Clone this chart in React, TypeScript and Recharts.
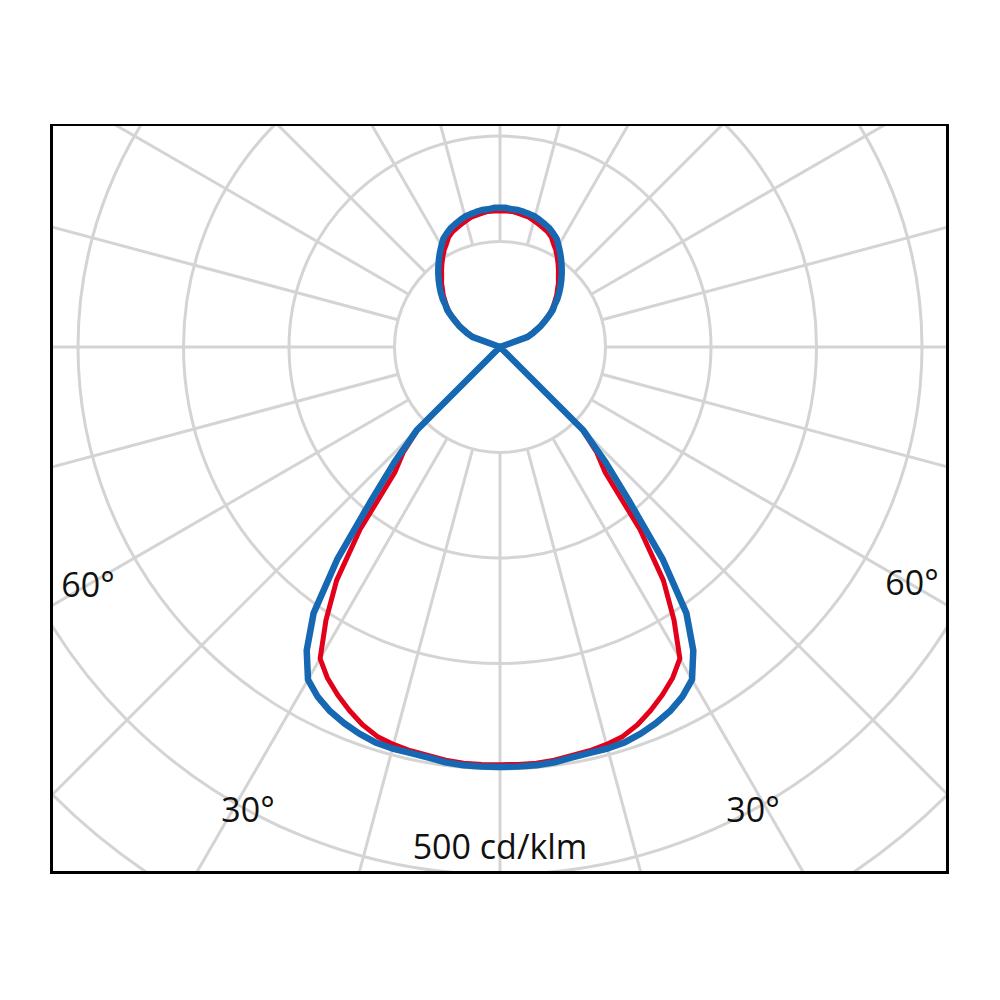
import React from "react";
import {
  RadarChart,
  Radar,
  PolarGrid,
  PolarAngleAxis,
  PolarRadiusAxis,
} from "recharts";

// gamma = angle from nadir, 0..180 in 2.5 degree steps (curves are symmetric)
const gammaStep = 2.5;

// cd/klm, blue curve, gamma 0 .. 180
const blueHalf = [
  398, 398, 398, 397, 395, 394, 394, 393, 390, 386, 381, 374, 364, 341, 308,
  253, 190, 148, 112,
  0, 0, 0, 0, 0, 0, 0, 0, 0, 0, 0, 0, 0, 0, 0, 0, 0, 0, 0, 0, 0, 0, 0, 0, 0,
  28, 33, 38, 44, 49, 55, 61, 65, 71, 76, 81, 86, 91, 96, 101, 106, 111, 116,
  119, 122, 124, 126, 128, 129, 130, 131, 131, 132, 132,
];

// cd/klm, red curve, gamma 0 .. 180
const redHalf = [
  396, 396, 396, 395, 393, 392, 390, 387, 381, 373, 364, 354, 341, 307, 270,
  218, 155, 136, 110,
  0, 0, 0, 0, 0, 0, 0, 0, 0, 0, 0, 0, 0, 0, 0, 0, 0, 0, 0, 0, 0, 0, 0, 0, 0,
  26, 31, 37, 43, 48, 54, 59, 64, 68, 73, 77, 82, 86, 91, 96, 101, 106, 110,
  115, 118, 120, 122, 124, 126, 127, 128, 129, 129, 129,
];

// grid rings every 100 cd/klm, spokes every 15 degrees
const ringTicks = [0, 100, 200, 300, 400, 500, 600];
const spokeAngles = [
  0, 15, 30, 45, 60, 75, 90, 105, 120, 135, 150, 165, 180, 195, 210, 225, 240,
  255, 270, 285, 300, 315, 330, 345,
];

const angleLabels = [
  { text: "60°", x: 35, y: 471 },
  { text: "60°", x: 859, y: 469 },
  { text: "30°", x: 195, y: 696 },
  { text: "30°", x: 700, y: 696 },
  { text: "500 cd/klm", x: 447, y: 733 },
];

// full circle built from the symmetric half
const steps = Math.round(360 / gammaStep);
const data = Array.from({ length: steps }, (_, i) => {
  const k = i <= steps / 2 ? i : steps - i;
  return { angle: i * gammaStep, blue: blueHalf[k], red: redHalf[k] };
});

const W = 893;
const H = 745;
const CX = 447;
const CY = 221;
const PX_PER_UNIT = 1.055; // px per cd/klm

export default function App() {
  const layer: React.CSSProperties = { position: "absolute", left: 0, top: 0 };
  return (
    <div
      style={{
        position: "absolute",
        left: 0,
        top: 0,
        width: 1000,
        height: 1000,
        background: "#fff",
      }}
    >
      <div
        style={{
          position: "absolute",
          left: 50,
          top: 124,
          width: W,
          height: H,
          borderStyle: "solid",
          borderColor: "#000",
          borderWidth: "2px 3px 3px 3px",
          overflow: "hidden",
        }}
      >
        {/* grid layer: the spokes start at the first ring */}
        <div style={layer}>
          <RadarChart
            width={W}
            height={H}
            data={data}
            cx={CX}
            cy={CY}
            innerRadius={100 * PX_PER_UNIT}
            outerRadius={700 * PX_PER_UNIT}
            startAngle={270}
            endAngle={-90}
            margin={{ top: 0, right: 0, bottom: 0, left: 0 }}
          >
            <PolarGrid
              gridType="circle"
              polarAngles={spokeAngles}
              stroke="#d4d4d4"
              strokeWidth={3}
            />
            <PolarAngleAxis dataKey="angle" tick={false} axisLine={false} tickLine={false} />
            <PolarRadiusAxis
              domain={[0, 600]}
              ticks={ringTicks}
              tick={false}
              axisLine={false}
              tickLine={false}
            />
            <Radar
              dataKey="blue"
              stroke="none"
              fill="none"
              fillOpacity={0}
              dot={false}
              isAnimationActive={false}
            />
          </RadarChart>
        </div>
        {/* curve layer */}
        <div style={layer}>
          <RadarChart
            width={W}
            height={H}
            data={data}
            cx={CX}
            cy={CY}
            innerRadius={0}
            outerRadius={700 * PX_PER_UNIT}
            startAngle={270}
            endAngle={-90}
            margin={{ top: 0, right: 0, bottom: 0, left: 0 }}
          >
            <PolarAngleAxis dataKey="angle" tick={false} axisLine={false} tickLine={false} />
            <PolarRadiusAxis
              domain={[0, 700]}
              tick={false}
              axisLine={false}
              tickLine={false}
            />
            <Radar
              dataKey="red"
              stroke="#e2001a"
              strokeWidth={5}
              strokeLinejoin="round"
              fill="none"
              fillOpacity={0}
              dot={false}
              isAnimationActive={false}
            />
            <Radar
              dataKey="blue"
              stroke="#1668b2"
              strokeWidth={6.5}
              strokeLinejoin="round"
              fill="none"
              fillOpacity={0}
              dot={false}
              isAnimationActive={false}
            />
          </RadarChart>
        </div>
        <svg width={W} height={H} style={{ ...layer, pointerEvents: "none" }}>
          {angleLabels.map((l, i) => (
            <text
              key={i}
              x={l.x}
              y={l.y}
              textAnchor="middle"
              fontFamily="'Open Sans', sans-serif"
              fontSize={34}
              fill="#111"
            >
              {l.text}
            </text>
          ))}
        </svg>
      </div>
    </div>
  );
}
